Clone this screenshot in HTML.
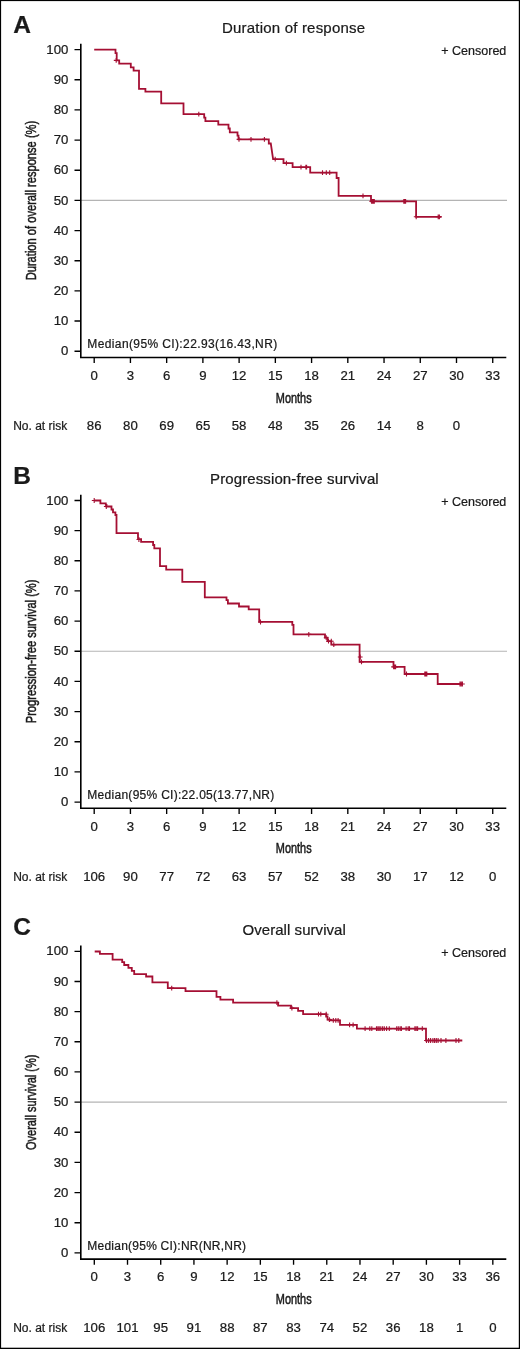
<!DOCTYPE html><html><head><meta charset="utf-8"><style>html,body{margin:0;padding:0;background:#fff;}svg{display:block;will-change:transform;}text{font-family:"Liberation Sans",sans-serif;fill:#1a1a1a;stroke:#1a1a1a;stroke-width:0.22px;}text.c{stroke-width:0.5px;}</style></head><body>
<svg width="520" height="1349" viewBox="0 0 520 1349">
<rect x="0" y="0" width="520" height="1349" fill="#fff"/>
<g transform="translate(0,0.00)">
<text x="13.2" y="33.1" font-size="24.5" font-weight="bold">A</text>
<text x="222.0" y="33.2" font-size="15" textLength="143.0" lengthAdjust="spacing">Duration of response</text>
<text x="506.3" y="55" font-size="12.5" text-anchor="end">+ Censored</text>
<line x1="81" y1="200.4" x2="507" y2="200.4" stroke="#b4b4b4" stroke-width="1.1"/>
<path d="M80.8,43.8 V357.45 H506.3" fill="none" stroke="#000" stroke-width="1.6"/>
<text x="68.4" y="53.80" font-size="12" text-anchor="end" textLength="22.02" lengthAdjust="spacingAndGlyphs">100</text>
<text x="68.4" y="83.96" font-size="12" text-anchor="end" textLength="14.68" lengthAdjust="spacingAndGlyphs">90</text>
<text x="68.4" y="114.12" font-size="12" text-anchor="end" textLength="14.68" lengthAdjust="spacingAndGlyphs">80</text>
<text x="68.4" y="144.28" font-size="12" text-anchor="end" textLength="14.68" lengthAdjust="spacingAndGlyphs">70</text>
<text x="68.4" y="174.44" font-size="12" text-anchor="end" textLength="14.68" lengthAdjust="spacingAndGlyphs">60</text>
<text x="68.4" y="204.60" font-size="12" text-anchor="end" textLength="14.68" lengthAdjust="spacingAndGlyphs">50</text>
<text x="68.4" y="234.76" font-size="12" text-anchor="end" textLength="14.68" lengthAdjust="spacingAndGlyphs">40</text>
<text x="68.4" y="264.92" font-size="12" text-anchor="end" textLength="14.68" lengthAdjust="spacingAndGlyphs">30</text>
<text x="68.4" y="295.08" font-size="12" text-anchor="end" textLength="14.68" lengthAdjust="spacingAndGlyphs">20</text>
<text x="68.4" y="325.24" font-size="12" text-anchor="end" textLength="14.68" lengthAdjust="spacingAndGlyphs">10</text>
<text x="68.4" y="355.40" font-size="12" text-anchor="end" textLength="7.34" lengthAdjust="spacingAndGlyphs">0</text>
<text x="94.20" y="379.8" font-size="12" text-anchor="middle" textLength="7.34" lengthAdjust="spacingAndGlyphs">0</text>
<text x="130.43" y="379.8" font-size="12" text-anchor="middle" textLength="7.34" lengthAdjust="spacingAndGlyphs">3</text>
<text x="166.66" y="379.8" font-size="12" text-anchor="middle" textLength="7.34" lengthAdjust="spacingAndGlyphs">6</text>
<text x="202.89" y="379.8" font-size="12" text-anchor="middle" textLength="7.34" lengthAdjust="spacingAndGlyphs">9</text>
<text x="239.12" y="379.8" font-size="12" text-anchor="middle" textLength="14.68" lengthAdjust="spacingAndGlyphs">12</text>
<text x="275.35" y="379.8" font-size="12" text-anchor="middle" textLength="14.68" lengthAdjust="spacingAndGlyphs">15</text>
<text x="311.58" y="379.8" font-size="12" text-anchor="middle" textLength="14.68" lengthAdjust="spacingAndGlyphs">18</text>
<text x="347.81" y="379.8" font-size="12" text-anchor="middle" textLength="14.68" lengthAdjust="spacingAndGlyphs">21</text>
<text x="384.04" y="379.8" font-size="12" text-anchor="middle" textLength="14.68" lengthAdjust="spacingAndGlyphs">24</text>
<text x="420.27" y="379.8" font-size="12" text-anchor="middle" textLength="14.68" lengthAdjust="spacingAndGlyphs">27</text>
<text x="456.50" y="379.8" font-size="12" text-anchor="middle" textLength="14.68" lengthAdjust="spacingAndGlyphs">30</text>
<text x="492.73" y="379.8" font-size="12" text-anchor="middle" textLength="14.68" lengthAdjust="spacingAndGlyphs">33</text>
<text x="94.20" y="430.3" font-size="12" text-anchor="middle" textLength="14.68" lengthAdjust="spacingAndGlyphs">86</text>
<text x="130.43" y="430.3" font-size="12" text-anchor="middle" textLength="14.68" lengthAdjust="spacingAndGlyphs">80</text>
<text x="166.66" y="430.3" font-size="12" text-anchor="middle" textLength="14.68" lengthAdjust="spacingAndGlyphs">69</text>
<text x="202.89" y="430.3" font-size="12" text-anchor="middle" textLength="14.68" lengthAdjust="spacingAndGlyphs">65</text>
<text x="239.12" y="430.3" font-size="12" text-anchor="middle" textLength="14.68" lengthAdjust="spacingAndGlyphs">58</text>
<text x="275.35" y="430.3" font-size="12" text-anchor="middle" textLength="14.68" lengthAdjust="spacingAndGlyphs">48</text>
<text x="311.58" y="430.3" font-size="12" text-anchor="middle" textLength="14.68" lengthAdjust="spacingAndGlyphs">35</text>
<text x="347.81" y="430.3" font-size="12" text-anchor="middle" textLength="14.68" lengthAdjust="spacingAndGlyphs">26</text>
<text x="384.04" y="430.3" font-size="12" text-anchor="middle" textLength="14.68" lengthAdjust="spacingAndGlyphs">14</text>
<text x="420.27" y="430.3" font-size="12" text-anchor="middle" textLength="7.34" lengthAdjust="spacingAndGlyphs">8</text>
<text x="456.50" y="430.3" font-size="12" text-anchor="middle" textLength="7.34" lengthAdjust="spacingAndGlyphs">0</text>
<path d="M74.5,49.60H81M74.5,79.76H81M74.5,109.92H81M74.5,140.08H81M74.5,170.24H81M74.5,200.40H81M74.5,230.56H81M74.5,260.72H81M74.5,290.88H81M74.5,321.04H81M74.5,351.20H81M94.20,357.5V363.1M130.43,357.5V363.1M166.66,357.5V363.1M202.89,357.5V363.1M239.12,357.5V363.1M275.35,357.5V363.1M311.58,357.5V363.1M347.81,357.5V363.1M384.04,357.5V363.1M420.27,357.5V363.1M456.50,357.5V363.1M492.73,357.5V363.1" fill="none" stroke="#000" stroke-width="1.35"/>
<text x="293.7" y="402.5" class="c" font-size="14.3" text-anchor="middle" textLength="35.8" lengthAdjust="spacingAndGlyphs">Months</text>
<text x="13.2" y="430.3" font-size="12">No. at risk</text>
<text x="87.3" y="347.9" font-size="12" textLength="189.9" lengthAdjust="spacing">Median(95% CI):22.93(16.43,NR)</text>
<text transform="translate(35.9,200.55) rotate(-90)" x="0" y="0" class="c" font-size="15.2" text-anchor="middle" textLength="159.5" lengthAdjust="spacingAndGlyphs">Duration of overall response (%)</text>
</g>
<g transform="translate(0,450.85)">
<text x="13.2" y="33.1" font-size="24.5" font-weight="bold">B</text>
<text x="210.0" y="33.2" font-size="15" textLength="168.7" lengthAdjust="spacing">Progression-free survival</text>
<text x="506.3" y="55" font-size="12.5" text-anchor="end">+ Censored</text>
<line x1="81" y1="200.4" x2="507" y2="200.4" stroke="#b4b4b4" stroke-width="1.1"/>
<path d="M80.8,43.8 V357.45 H506.3" fill="none" stroke="#000" stroke-width="1.6"/>
<text x="68.4" y="53.80" font-size="12" text-anchor="end" textLength="22.02" lengthAdjust="spacingAndGlyphs">100</text>
<text x="68.4" y="83.96" font-size="12" text-anchor="end" textLength="14.68" lengthAdjust="spacingAndGlyphs">90</text>
<text x="68.4" y="114.12" font-size="12" text-anchor="end" textLength="14.68" lengthAdjust="spacingAndGlyphs">80</text>
<text x="68.4" y="144.28" font-size="12" text-anchor="end" textLength="14.68" lengthAdjust="spacingAndGlyphs">70</text>
<text x="68.4" y="174.44" font-size="12" text-anchor="end" textLength="14.68" lengthAdjust="spacingAndGlyphs">60</text>
<text x="68.4" y="204.60" font-size="12" text-anchor="end" textLength="14.68" lengthAdjust="spacingAndGlyphs">50</text>
<text x="68.4" y="234.76" font-size="12" text-anchor="end" textLength="14.68" lengthAdjust="spacingAndGlyphs">40</text>
<text x="68.4" y="264.92" font-size="12" text-anchor="end" textLength="14.68" lengthAdjust="spacingAndGlyphs">30</text>
<text x="68.4" y="295.08" font-size="12" text-anchor="end" textLength="14.68" lengthAdjust="spacingAndGlyphs">20</text>
<text x="68.4" y="325.24" font-size="12" text-anchor="end" textLength="14.68" lengthAdjust="spacingAndGlyphs">10</text>
<text x="68.4" y="355.40" font-size="12" text-anchor="end" textLength="7.34" lengthAdjust="spacingAndGlyphs">0</text>
<text x="94.20" y="379.8" font-size="12" text-anchor="middle" textLength="7.34" lengthAdjust="spacingAndGlyphs">0</text>
<text x="130.43" y="379.8" font-size="12" text-anchor="middle" textLength="7.34" lengthAdjust="spacingAndGlyphs">3</text>
<text x="166.66" y="379.8" font-size="12" text-anchor="middle" textLength="7.34" lengthAdjust="spacingAndGlyphs">6</text>
<text x="202.89" y="379.8" font-size="12" text-anchor="middle" textLength="7.34" lengthAdjust="spacingAndGlyphs">9</text>
<text x="239.12" y="379.8" font-size="12" text-anchor="middle" textLength="14.68" lengthAdjust="spacingAndGlyphs">12</text>
<text x="275.35" y="379.8" font-size="12" text-anchor="middle" textLength="14.68" lengthAdjust="spacingAndGlyphs">15</text>
<text x="311.58" y="379.8" font-size="12" text-anchor="middle" textLength="14.68" lengthAdjust="spacingAndGlyphs">18</text>
<text x="347.81" y="379.8" font-size="12" text-anchor="middle" textLength="14.68" lengthAdjust="spacingAndGlyphs">21</text>
<text x="384.04" y="379.8" font-size="12" text-anchor="middle" textLength="14.68" lengthAdjust="spacingAndGlyphs">24</text>
<text x="420.27" y="379.8" font-size="12" text-anchor="middle" textLength="14.68" lengthAdjust="spacingAndGlyphs">27</text>
<text x="456.50" y="379.8" font-size="12" text-anchor="middle" textLength="14.68" lengthAdjust="spacingAndGlyphs">30</text>
<text x="492.73" y="379.8" font-size="12" text-anchor="middle" textLength="14.68" lengthAdjust="spacingAndGlyphs">33</text>
<text x="94.20" y="430.3" font-size="12" text-anchor="middle" textLength="22.02" lengthAdjust="spacingAndGlyphs">106</text>
<text x="130.43" y="430.3" font-size="12" text-anchor="middle" textLength="14.68" lengthAdjust="spacingAndGlyphs">90</text>
<text x="166.66" y="430.3" font-size="12" text-anchor="middle" textLength="14.68" lengthAdjust="spacingAndGlyphs">77</text>
<text x="202.89" y="430.3" font-size="12" text-anchor="middle" textLength="14.68" lengthAdjust="spacingAndGlyphs">72</text>
<text x="239.12" y="430.3" font-size="12" text-anchor="middle" textLength="14.68" lengthAdjust="spacingAndGlyphs">63</text>
<text x="275.35" y="430.3" font-size="12" text-anchor="middle" textLength="14.68" lengthAdjust="spacingAndGlyphs">57</text>
<text x="311.58" y="430.3" font-size="12" text-anchor="middle" textLength="14.68" lengthAdjust="spacingAndGlyphs">52</text>
<text x="347.81" y="430.3" font-size="12" text-anchor="middle" textLength="14.68" lengthAdjust="spacingAndGlyphs">38</text>
<text x="384.04" y="430.3" font-size="12" text-anchor="middle" textLength="14.68" lengthAdjust="spacingAndGlyphs">30</text>
<text x="420.27" y="430.3" font-size="12" text-anchor="middle" textLength="14.68" lengthAdjust="spacingAndGlyphs">17</text>
<text x="456.50" y="430.3" font-size="12" text-anchor="middle" textLength="14.68" lengthAdjust="spacingAndGlyphs">12</text>
<text x="492.73" y="430.3" font-size="12" text-anchor="middle" textLength="7.34" lengthAdjust="spacingAndGlyphs">0</text>
<path d="M74.5,49.60H81M74.5,79.76H81M74.5,109.92H81M74.5,140.08H81M74.5,170.24H81M74.5,200.40H81M74.5,230.56H81M74.5,260.72H81M74.5,290.88H81M74.5,321.04H81M74.5,351.20H81M94.20,357.5V363.1M130.43,357.5V363.1M166.66,357.5V363.1M202.89,357.5V363.1M239.12,357.5V363.1M275.35,357.5V363.1M311.58,357.5V363.1M347.81,357.5V363.1M384.04,357.5V363.1M420.27,357.5V363.1M456.50,357.5V363.1M492.73,357.5V363.1" fill="none" stroke="#000" stroke-width="1.35"/>
<text x="293.7" y="402.5" class="c" font-size="14.3" text-anchor="middle" textLength="35.8" lengthAdjust="spacingAndGlyphs">Months</text>
<text x="13.2" y="430.3" font-size="12">No. at risk</text>
<text x="87.3" y="347.9" font-size="12" textLength="187.0" lengthAdjust="spacing">Median(95% CI):22.05(13.77,NR)</text>
<text transform="translate(35.9,200.55) rotate(-90)" x="0" y="0" class="c" font-size="15.2" text-anchor="middle" textLength="143.8" lengthAdjust="spacingAndGlyphs">Progression-free survival (%)</text>
</g>
<g transform="translate(0,901.70)">
<text x="13.2" y="33.1" font-size="24.5" font-weight="bold">C</text>
<text x="242.5" y="33.2" font-size="15" textLength="103.3" lengthAdjust="spacing">Overall survival</text>
<text x="506.3" y="55" font-size="12.5" text-anchor="end">+ Censored</text>
<line x1="81" y1="200.4" x2="507" y2="200.4" stroke="#b4b4b4" stroke-width="1.1"/>
<path d="M80.8,43.8 V357.45 H506.3" fill="none" stroke="#000" stroke-width="1.6"/>
<text x="68.4" y="53.80" font-size="12" text-anchor="end" textLength="22.02" lengthAdjust="spacingAndGlyphs">100</text>
<text x="68.4" y="83.96" font-size="12" text-anchor="end" textLength="14.68" lengthAdjust="spacingAndGlyphs">90</text>
<text x="68.4" y="114.12" font-size="12" text-anchor="end" textLength="14.68" lengthAdjust="spacingAndGlyphs">80</text>
<text x="68.4" y="144.28" font-size="12" text-anchor="end" textLength="14.68" lengthAdjust="spacingAndGlyphs">70</text>
<text x="68.4" y="174.44" font-size="12" text-anchor="end" textLength="14.68" lengthAdjust="spacingAndGlyphs">60</text>
<text x="68.4" y="204.60" font-size="12" text-anchor="end" textLength="14.68" lengthAdjust="spacingAndGlyphs">50</text>
<text x="68.4" y="234.76" font-size="12" text-anchor="end" textLength="14.68" lengthAdjust="spacingAndGlyphs">40</text>
<text x="68.4" y="264.92" font-size="12" text-anchor="end" textLength="14.68" lengthAdjust="spacingAndGlyphs">30</text>
<text x="68.4" y="295.08" font-size="12" text-anchor="end" textLength="14.68" lengthAdjust="spacingAndGlyphs">20</text>
<text x="68.4" y="325.24" font-size="12" text-anchor="end" textLength="14.68" lengthAdjust="spacingAndGlyphs">10</text>
<text x="68.4" y="355.40" font-size="12" text-anchor="end" textLength="7.34" lengthAdjust="spacingAndGlyphs">0</text>
<text x="94.30" y="379.8" font-size="12" text-anchor="middle" textLength="7.34" lengthAdjust="spacingAndGlyphs">0</text>
<text x="127.51" y="379.8" font-size="12" text-anchor="middle" textLength="7.34" lengthAdjust="spacingAndGlyphs">3</text>
<text x="160.72" y="379.8" font-size="12" text-anchor="middle" textLength="7.34" lengthAdjust="spacingAndGlyphs">6</text>
<text x="193.93" y="379.8" font-size="12" text-anchor="middle" textLength="7.34" lengthAdjust="spacingAndGlyphs">9</text>
<text x="227.14" y="379.8" font-size="12" text-anchor="middle" textLength="14.68" lengthAdjust="spacingAndGlyphs">12</text>
<text x="260.35" y="379.8" font-size="12" text-anchor="middle" textLength="14.68" lengthAdjust="spacingAndGlyphs">15</text>
<text x="293.56" y="379.8" font-size="12" text-anchor="middle" textLength="14.68" lengthAdjust="spacingAndGlyphs">18</text>
<text x="326.77" y="379.8" font-size="12" text-anchor="middle" textLength="14.68" lengthAdjust="spacingAndGlyphs">21</text>
<text x="359.98" y="379.8" font-size="12" text-anchor="middle" textLength="14.68" lengthAdjust="spacingAndGlyphs">24</text>
<text x="393.19" y="379.8" font-size="12" text-anchor="middle" textLength="14.68" lengthAdjust="spacingAndGlyphs">27</text>
<text x="426.40" y="379.8" font-size="12" text-anchor="middle" textLength="14.68" lengthAdjust="spacingAndGlyphs">30</text>
<text x="459.61" y="379.8" font-size="12" text-anchor="middle" textLength="14.68" lengthAdjust="spacingAndGlyphs">33</text>
<text x="492.82" y="379.8" font-size="12" text-anchor="middle" textLength="14.68" lengthAdjust="spacingAndGlyphs">36</text>
<text x="94.30" y="430.3" font-size="12" text-anchor="middle" textLength="22.02" lengthAdjust="spacingAndGlyphs">106</text>
<text x="127.51" y="430.3" font-size="12" text-anchor="middle" textLength="22.02" lengthAdjust="spacingAndGlyphs">101</text>
<text x="160.72" y="430.3" font-size="12" text-anchor="middle" textLength="14.68" lengthAdjust="spacingAndGlyphs">95</text>
<text x="193.93" y="430.3" font-size="12" text-anchor="middle" textLength="14.68" lengthAdjust="spacingAndGlyphs">91</text>
<text x="227.14" y="430.3" font-size="12" text-anchor="middle" textLength="14.68" lengthAdjust="spacingAndGlyphs">88</text>
<text x="260.35" y="430.3" font-size="12" text-anchor="middle" textLength="14.68" lengthAdjust="spacingAndGlyphs">87</text>
<text x="293.56" y="430.3" font-size="12" text-anchor="middle" textLength="14.68" lengthAdjust="spacingAndGlyphs">83</text>
<text x="326.77" y="430.3" font-size="12" text-anchor="middle" textLength="14.68" lengthAdjust="spacingAndGlyphs">74</text>
<text x="359.98" y="430.3" font-size="12" text-anchor="middle" textLength="14.68" lengthAdjust="spacingAndGlyphs">52</text>
<text x="393.19" y="430.3" font-size="12" text-anchor="middle" textLength="14.68" lengthAdjust="spacingAndGlyphs">36</text>
<text x="426.40" y="430.3" font-size="12" text-anchor="middle" textLength="14.68" lengthAdjust="spacingAndGlyphs">18</text>
<text x="459.61" y="430.3" font-size="12" text-anchor="middle" textLength="7.34" lengthAdjust="spacingAndGlyphs">1</text>
<text x="492.82" y="430.3" font-size="12" text-anchor="middle" textLength="7.34" lengthAdjust="spacingAndGlyphs">0</text>
<path d="M74.5,49.60H81M74.5,79.76H81M74.5,109.92H81M74.5,140.08H81M74.5,170.24H81M74.5,200.40H81M74.5,230.56H81M74.5,260.72H81M74.5,290.88H81M74.5,321.04H81M74.5,351.20H81M94.30,357.5V363.1M127.51,357.5V363.1M160.72,357.5V363.1M193.93,357.5V363.1M227.14,357.5V363.1M260.35,357.5V363.1M293.56,357.5V363.1M326.77,357.5V363.1M359.98,357.5V363.1M393.19,357.5V363.1M426.40,357.5V363.1M459.61,357.5V363.1M492.82,357.5V363.1" fill="none" stroke="#000" stroke-width="1.35"/>
<text x="293.7" y="402.5" class="c" font-size="14.3" text-anchor="middle" textLength="35.8" lengthAdjust="spacingAndGlyphs">Months</text>
<text x="13.2" y="430.3" font-size="12">No. at risk</text>
<text x="87.3" y="347.9" font-size="12" textLength="158.8" lengthAdjust="spacing">Median(95% CI):NR(NR,NR)</text>
<text transform="translate(35.9,200.55) rotate(-90)" x="0" y="0" class="c" font-size="15.2" text-anchor="middle" textLength="95.5" lengthAdjust="spacingAndGlyphs">Overall survival (%)</text>
</g>
<path d="M94.2,49.6 H115.5 V53.1 H116.7 V60.4 H119.2 V63.7 H130.8 V67.3 H133.6 V70.6 H139 V88.8 H145.4 V91.7 H161.2 V103.3 H183.5 V114.2 H204.2 V117.7 H205.4 V121.2 H218.3 V124.6 H228.5 V128.5 H229.8 V132.3 H237.5 V135.6 H238.5 V139.4 H268.8 V143.5 H270.8 L273.1,159.2 H283.5 V163.2 H292.6 V167.2 H310.2 V172.6 H336.6 V178 H338.6 V195.8 H371 V201.3 H416.1 V216.8 H441.5" fill="none" stroke="#a50f33" stroke-width="1.8" stroke-linejoin="miter"/>
<path d="M116.2,60.4v-2.4v4.8M116.2,60.4h-2.4h4.8M198.8,114.2v-2.4v4.8M198.8,114.2h-2.4h4.8M239.0,139.4v-2.4v4.8M239.0,139.4h-2.4h4.8M251.0,139.4v-2.4v4.8M251.0,139.4h-2.4h4.8M264.4,139.4v-2.4v4.8M264.4,139.4h-2.4h4.8M275.2,159.2v-2.4v4.8M275.2,159.2h-2.4h4.8M286.4,163.2v-2.4v4.8M286.4,163.2h-2.4h4.8M301.0,167.2v-2.4v4.8M301.0,167.2h-2.4h4.8M305.9,167.2v-2.4v4.8M305.9,167.2h-2.4h4.8M306.6,167.2v-2.4v4.8M306.6,167.2h-2.4h4.8M322.5,172.6v-2.4v4.8M322.5,172.6h-2.4h4.8M326.3,172.6v-2.4v4.8M326.3,172.6h-2.4h4.8M329.7,172.6v-2.4v4.8M329.7,172.6h-2.4h4.8M363.0,195.8v-2.4v4.8M363.0,195.8h-2.4h4.8M371.6,201.3v-2.4v4.8M371.6,201.3h-2.4h4.8M372.6,201.3v-2.4v4.8M372.6,201.3h-2.4h4.8M373.5,201.3v-2.4v4.8M373.5,201.3h-2.4h4.8M374.3,201.3v-2.4v4.8M374.3,201.3h-2.4h4.8M403.8,201.3v-2.4v4.8M403.8,201.3h-2.4h4.8M404.8,201.3v-2.4v4.8M404.8,201.3h-2.4h4.8M405.6,201.3v-2.4v4.8M405.6,201.3h-2.4h4.8M416.2,216.8v-2.4v4.8M416.2,216.8h-2.4h4.8M438.2,216.8v-2.4v4.8M438.2,216.8h-2.4h4.8M439.4,216.8v-2.4v4.8M439.4,216.8h-2.4h4.8" fill="none" stroke="#a50f33" stroke-width="1.1"/>
<path d="M94.2,500.5 H100.4 V503.3 H105.8 V504.8 H106.5 V506.5 H111.5 V509.5 H113 V512.3 H115.4 V515 H116.5 V533.1 H138 V539.2 H141.1 V541.9 H153.1 V545 H154.3 V548.4 H160 V566.2 H166.2 V569.6 H182.3 V581.9 H204.8 V597.3 H226.5 V600.2 H227.9 V603.5 H239 V606.5 H248.7 V609.4 H259.2 V621.9 H292.3 V624.8 H293.5 V634.4 H325 V637.7 H327.5 V641.2 H331.3 V644.6 H359.6 V661.9 H393.5 V666.9 H404.6 V674 H437.7 V684 H463" fill="none" stroke="#a50f33" stroke-width="1.8" stroke-linejoin="miter"/>
<path d="M94.2,500.5v-2.4v4.8M94.2,500.5h-2.4h4.8M106.3,506.5v-2.4v4.8M106.3,506.5h-2.4h4.8M138.9,539.5v-2.4v4.8M138.9,539.5h-2.4h4.8M260.5,622.0v-2.4v4.8M260.5,622.0h-2.4h4.8M308.8,634.4v-2.4v4.8M308.8,634.4h-2.4h4.8M326.2,637.7v-2.4v4.8M326.2,637.7h-2.4h4.8M328.5,641.2v-2.4v4.8M328.5,641.2h-2.4h4.8M331.3,641.2v-2.4v4.8M331.3,641.2h-2.4h4.8M333.8,644.6v-2.4v4.8M333.8,644.6h-2.4h4.8M360.2,657.0v-2.4v4.8M360.2,657.0h-2.4h4.8M361.5,661.9v-2.4v4.8M361.5,661.9h-2.4h4.8M393.6,666.9v-2.4v4.8M393.6,666.9h-2.4h4.8M394.6,666.9v-2.4v4.8M394.6,666.9h-2.4h4.8M395.6,666.9v-2.4v4.8M395.6,666.9h-2.4h4.8M406.5,674.0v-2.4v4.8M406.5,674.0h-2.4h4.8M424.8,674.0v-2.4v4.8M424.8,674.0h-2.4h4.8M425.8,674.0v-2.4v4.8M425.8,674.0h-2.4h4.8M426.8,674.0v-2.4v4.8M426.8,674.0h-2.4h4.8M460.0,684.0v-2.4v4.8M460.0,684.0h-2.4h4.8M461.2,684.0v-2.4v4.8M461.2,684.0h-2.4h4.8M462.4,684.0v-2.4v4.8M462.4,684.0h-2.4h4.8" fill="none" stroke="#a50f33" stroke-width="1.1"/>
<path d="M94.7,951.5 H99.9 V953.8 H112.6 V959.6 H122.2 V962.1 H124.2 V965 H128.4 V967.9 H131.8 V970.8 H134.2 V974.2 H146.1 V976.5 H152.4 V982.3 H167.8 V988.1 H185.5 V991.2 H216.5 V996.9 H220.4 V999.7 H233.1 V1002.7 H278.1 V1005.6 H291 V1008.1 H298.1 V1010.8 H303.1 V1014.2 H326.2 V1016.5 H327.5 V1019.6 H330.4 V1020.4 H340 V1024.8 H356.9 V1028.7 H426 V1040.5 H462.3" fill="none" stroke="#a50f33" stroke-width="1.8" stroke-linejoin="miter"/>
<path d="M171.7,988.1v-2.4v4.8M171.7,988.1h-2.4h4.8M276.9,1002.7v-2.4v4.8M276.9,1002.7h-2.4h4.8M291.9,1008.1v-2.4v4.8M291.9,1008.1h-2.4h4.8M318.5,1014.2v-2.4v4.8M318.5,1014.2h-2.4h4.8M320.8,1014.2v-2.4v4.8M320.8,1014.2h-2.4h4.8M326.2,1014.2v-2.4v4.8M326.2,1014.2h-2.4h4.8M329.4,1019.6v-2.4v4.8M329.4,1019.6h-2.4h4.8M333.3,1020.4v-2.4v4.8M333.3,1020.4h-2.4h4.8M335.8,1020.4v-2.4v4.8M335.8,1020.4h-2.4h4.8M338.1,1020.4v-2.4v4.8M338.1,1020.4h-2.4h4.8M349.6,1024.8v-2.4v4.8M349.6,1024.8h-2.4h4.8M353.1,1024.8v-2.4v4.8M353.1,1024.8h-2.4h4.8M365.1,1028.7v-2.4v4.8M365.1,1028.7h-2.4h4.8M369.8,1028.7v-2.4v4.8M369.8,1028.7h-2.4h4.8M371.8,1028.7v-2.4v4.8M371.8,1028.7h-2.4h4.8M376.5,1028.7v-2.4v4.8M376.5,1028.7h-2.4h4.8M377.9,1028.7v-2.4v4.8M377.9,1028.7h-2.4h4.8M379.2,1028.7v-2.4v4.8M379.2,1028.7h-2.4h4.8M380.8,1028.7v-2.4v4.8M380.8,1028.7h-2.4h4.8M382.6,1028.7v-2.4v4.8M382.6,1028.7h-2.4h4.8M384.3,1028.7v-2.4v4.8M384.3,1028.7h-2.4h4.8M386.6,1028.7v-2.4v4.8M386.6,1028.7h-2.4h4.8M389.3,1028.7v-2.4v4.8M389.3,1028.7h-2.4h4.8M396.7,1028.7v-2.4v4.8M396.7,1028.7h-2.4h4.8M398.3,1028.7v-2.4v4.8M398.3,1028.7h-2.4h4.8M400.1,1028.7v-2.4v4.8M400.1,1028.7h-2.4h4.8M401.4,1028.7v-2.4v4.8M401.4,1028.7h-2.4h4.8M406.1,1028.7v-2.4v4.8M406.1,1028.7h-2.4h4.8M408.2,1028.7v-2.4v4.8M408.2,1028.7h-2.4h4.8M409.5,1028.7v-2.4v4.8M409.5,1028.7h-2.4h4.8M414.9,1028.7v-2.4v4.8M414.9,1028.7h-2.4h4.8M416.2,1028.7v-2.4v4.8M416.2,1028.7h-2.4h4.8M417.6,1028.7v-2.4v4.8M417.6,1028.7h-2.4h4.8M422.3,1028.7v-2.4v4.8M422.3,1028.7h-2.4h4.8M426.5,1040.5v-2.4v4.8M426.5,1040.5h-2.4h4.8M428.6,1040.5v-2.4v4.8M428.6,1040.5h-2.4h4.8M430.6,1040.5v-2.4v4.8M430.6,1040.5h-2.4h4.8M432.9,1040.5v-2.4v4.8M432.9,1040.5h-2.4h4.8M434.6,1040.5v-2.4v4.8M434.6,1040.5h-2.4h4.8M436.3,1040.5v-2.4v4.8M436.3,1040.5h-2.4h4.8M438.1,1040.5v-2.4v4.8M438.1,1040.5h-2.4h4.8M441.0,1040.5v-2.4v4.8M441.0,1040.5h-2.4h4.8M445.9,1040.5v-2.4v4.8M445.9,1040.5h-2.4h4.8M456.0,1040.5v-2.4v4.8M456.0,1040.5h-2.4h4.8M458.8,1040.5v-2.4v4.8M458.8,1040.5h-2.4h4.8" fill="none" stroke="#a50f33" stroke-width="1.1"/>
<rect x="0" y="0" width="520" height="1.1" fill="#000"/><rect x="0" y="0" width="1.1" height="1349" fill="#000"/>
<rect x="518.8" y="0" width="1.2" height="1349" fill="#000"/><rect x="0" y="1347.7" width="520" height="1.3" fill="#000"/>
</svg></body></html>
